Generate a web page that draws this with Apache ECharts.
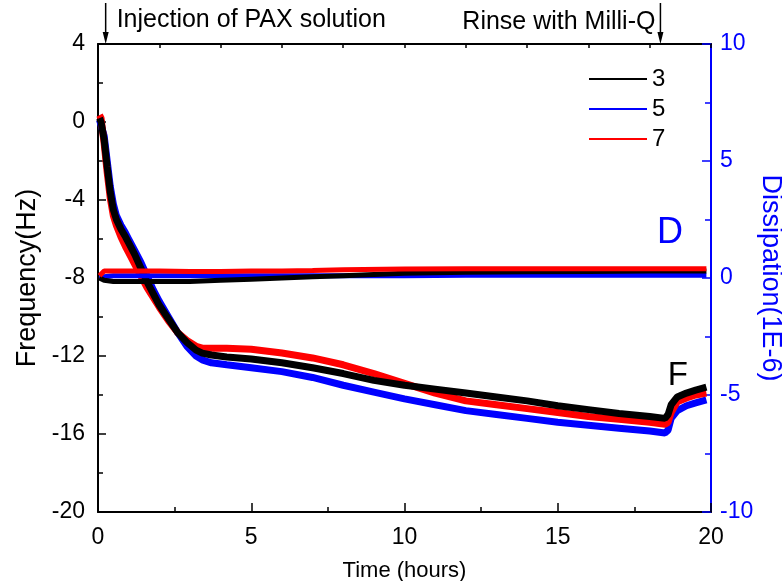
<!DOCTYPE html>
<html>
<head>
<meta charset="utf-8">
<script src="https://cdn.jsdelivr.net/npm/echarts@6/dist/echarts.min.js"></script>
<style>
html, body { margin: 0; padding: 0; background: #fff; }
#container { width: 782px; height: 581px; }
</style>
</head>
<body>
<div id="container"></div>
<script>
// time axis (hours) for the frequency traces
const fTime = [0.05, 0.1, 0.2, 0.3, 0.4, 0.5, 0.6, 0.75, 0.9, 1.0, 1.2, 1.4, 1.6, 1.8, 2.0, 2.3, 2.6, 2.9, 3.2, 3.4, 3.7, 4.2, 5, 6, 7, 8, 9, 10, 11, 12, 13, 14, 15, 16, 17, 18, 18.5, 18.6, 18.7, 18.9, 19.2, 19.5, 19.85]
const freq3 = [0.2, 0.0, -0.9, -2.3, -3.6, -4.5, -5.0, -5.5, -5.9, -6.2, -6.8, -7.5, -8.2, -8.8, -9.4, -10.1, -10.8, -11.3, -11.7, -11.85, -11.95, -12.05, -12.15, -12.35, -12.6, -12.9, -13.25, -13.5, -13.7, -13.9, -14.1, -14.3, -14.55, -14.75, -14.95, -15.1, -15.2, -15.0, -14.5, -14.1, -13.9, -13.75, -13.6]
const freq5 = [0.1, 0.0, -0.7, -2.0, -3.3, -4.2, -4.8, -5.3, -5.7, -6.0, -6.6, -7.2, -7.9, -8.6, -9.2, -10.0, -10.8, -11.5, -12.0, -12.2, -12.35, -12.45, -12.6, -12.8, -13.1, -13.5, -13.85, -14.2, -14.5, -14.8, -15.0, -15.2, -15.4, -15.55, -15.7, -15.85, -15.95, -15.8, -15.2, -14.8, -14.55, -14.4, -14.25]
const freq7 = [0.35, 0.2, -1.1, -2.6, -3.9, -4.8, -5.3, -5.9, -6.4, -6.7, -7.3, -7.9, -8.5, -9.0, -9.5, -10.2, -10.8, -11.2, -11.5, -11.6, -11.6, -11.6, -11.65, -11.85, -12.1, -12.45, -12.9, -13.4, -13.9, -14.3, -14.5, -14.7, -14.9, -15.1, -15.25, -15.4, -15.5, -15.4, -14.9, -14.35, -14.15, -14.0, -13.9]

// time axis (hours) for the dissipation traces
const dTime = [0.05, 0.2, 0.5, 1, 2, 3, 4, 5, 6, 7, 8, 10, 12, 14, 16, 18, 19.85]
const diss3 = [0.0, -0.1, -0.15, -0.15, -0.15, -0.15, -0.1, -0.05, 0.0, 0.05, 0.1, 0.2, 0.25, 0.27, 0.28, 0.3, 0.3]
const diss5 = [0.0, 0.05, 0.1, 0.1, 0.1, 0.1, 0.1, 0.1, 0.1, 0.1, 0.1, 0.1, 0.12, 0.12, 0.12, 0.12, 0.12]
const diss7 = [0.1, 0.3, 0.3, 0.3, 0.3, 0.28, 0.28, 0.3, 0.3, 0.32, 0.35, 0.38, 0.4, 0.4, 0.4, 0.4, 0.4]

const legendNames = ['3', '5', '7']
const injectTime = 0.25
const rinseTime = 18.35

const FONT = "'Liberation Sans', Arial, sans-serif"
const BLUE = '#0000ff'

const pairs = (xs, ys) => xs.map((x, i) => [x, ys[i]])

const dom = document.getElementById('container')
const chart = echarts.init(dom)

const traceF = (name, color, ys) => ({
    name,
    type: 'line',
    xAxisIndex: 0,
    yAxisIndex: 0,
    showSymbol: false,
    animation: false,
    color,
    lineStyle: { width: 7, color },
    data: pairs(fTime, ys)
})
const traceD = (name, color, ys) => ({
    name,
    type: 'line',
    xAxisIndex: 0,
    yAxisIndex: 1,
    showSymbol: false,
    animation: false,
    color,
    lineStyle: { width: 5, color },
    data: pairs(dTime, ys)
})

const tickLabel = { fontFamily: FONT, fontSize: 23, color: '#000' }

chart.setOption({
    backgroundColor: '#fff',
    animation: false,
    grid: { left: 98, right: 71, top: 44, bottom: 69, containLabel: false, outerBoundsMode: 'none' },
    legend: {
        data: legendNames,
        orient: 'vertical',
        left: 584,
        top: 62,
        icon: 'rect',
        itemWidth: 58,
        itemHeight: 2,
        itemGap: 6,
        textStyle: { fontFamily: FONT, fontSize: 24, lineHeight: 24, color: '#000' }
    },
    xAxis: [
        {
            type: 'value',
            min: 0,
            max: 20,
            interval: 5,
            name: 'Time (hours)',
            nameLocation: 'middle',
            nameGap: 48,
            nameTextStyle: { fontFamily: FONT, fontSize: 22, color: '#000' },
            axisLine: { onZero: false, lineStyle: { color: '#000', width: 2 } },
            axisTick: { inside: true, length: 9, lineStyle: { color: '#000', width: 1.5 } },
            minorTick: { show: true, splitNumber: 2, length: 5, lineStyle: { color: '#000', width: 1.5 } },
            axisLabel: Object.assign({ margin: 14 }, tickLabel),
            splitLine: { show: false }
        },
        {
            type: 'value',
            position: 'top',
            min: 0,
            max: 20,
            interval: 2,
            axisLine: { onZero: false, lineStyle: { color: '#000', width: 2 } },
            axisTick: { inside: true, length: 4, lineStyle: { color: '#000', width: 1.5 } },
            axisLabel: { show: false },
            splitLine: { show: false }
        }
    ],
    yAxis: [
        {
            type: 'value',
            min: -20,
            max: 4,
            interval: 4,
            name: 'Frequency(Hz)',
            nameLocation: 'middle',
            nameRotate: 90,
            nameGap: 56,
            nameTextStyle: { fontFamily: FONT, fontSize: 27, color: '#000' },
            axisLine: { show: true, onZero: false, lineStyle: { color: '#000', width: 2 } },
            axisTick: { show: true, inside: true, length: 8, lineStyle: { color: '#000', width: 1.5 } },
            minorTick: { show: true, splitNumber: 2, length: 5, lineStyle: { color: '#000', width: 1.5 } },
            axisLabel: Object.assign({ margin: 13 }, tickLabel),
            splitLine: { show: false }
        },
        {
            type: 'value',
            position: 'right',
            min: -10,
            max: 10,
            interval: 5,
            name: 'Dissipation(1E-6)',
            nameLocation: 'middle',
            nameRotate: -90,
            nameGap: 46,
            nameMoveOverlap: false,
            nameTextStyle: { fontFamily: FONT, fontSize: 27, color: BLUE },
            axisLine: { show: true, onZero: false, lineStyle: { color: BLUE, width: 2 } },
            axisTick: { show: true, inside: true, length: 9, lineStyle: { color: BLUE, width: 1.5 } },
            minorTick: { show: true, splitNumber: 2, length: 6, lineStyle: { color: BLUE, width: 1.5 } },
            axisLabel: { margin: 9, fontFamily: FONT, fontSize: 23, color: BLUE },
            splitLine: { show: false }
        }
    ],
    series: [
        traceF('5', BLUE, freq5),
        traceF('7', '#ff0000', freq7),
        traceF('3', '#000000', freq3),
        traceD('5', BLUE, diss5),
        traceD('3', '#000000', diss3),
        traceD('7', '#ff0000', diss7)
    ]
})

// annotations: arrows marking injection / rinse, and D / F labels
const topY = chart.convertToPixel({ yAxisIndex: 0 }, 4)
const arrow = (t) => {
    const x = chart.convertToPixel({ xAxisIndex: 0 }, t)
    return [
        { type: 'line', shape: { x1: x, y1: 3, x2: x, y2: topY - 10 }, style: { stroke: '#000', lineWidth: 1.5 } },
        { type: 'polygon', shape: { points: [[x - 3, topY - 12], [x + 3, topY - 12], [x, topY]] }, style: { fill: '#000' } }
    ]
}
const injX = chart.convertToPixel({ xAxisIndex: 0 }, injectTime)
const rinseX = chart.convertToPixel({ xAxisIndex: 0 }, rinseTime)
const dPos = chart.convertToPixel({ xAxisIndex: 0, yAxisIndex: 1 }, [18.66, 1.9])
const fPos = chart.convertToPixel({ xAxisIndex: 0, yAxisIndex: 0 }, [18.92, -13.0])

chart.setOption({
    graphic: [
        ...arrow(injectTime),
        ...arrow(rinseTime),
        { type: 'text', x: injX + 11, y: 20, style: { text: 'Injection of PAX solution', font: `25px ${FONT}`, fill: '#000', textAlign: 'left', textVerticalAlign: 'middle' } },
        { type: 'text', x: rinseX - 5, y: 22, style: { text: 'Rinse with Milli-Q', font: `25px ${FONT}`, fill: '#000', textAlign: 'right', textVerticalAlign: 'middle' } },
        { type: 'text', x: dPos[0], y: dPos[1], style: { text: 'D', font: `36px ${FONT}`, fill: BLUE, textAlign: 'center', textVerticalAlign: 'middle' } },
        { type: 'text', x: fPos[0], y: fPos[1], style: { text: 'F', font: `33px ${FONT}`, fill: '#000', textAlign: 'center', textVerticalAlign: 'middle' } }
    ]
})
</script>
</body>
</html>
